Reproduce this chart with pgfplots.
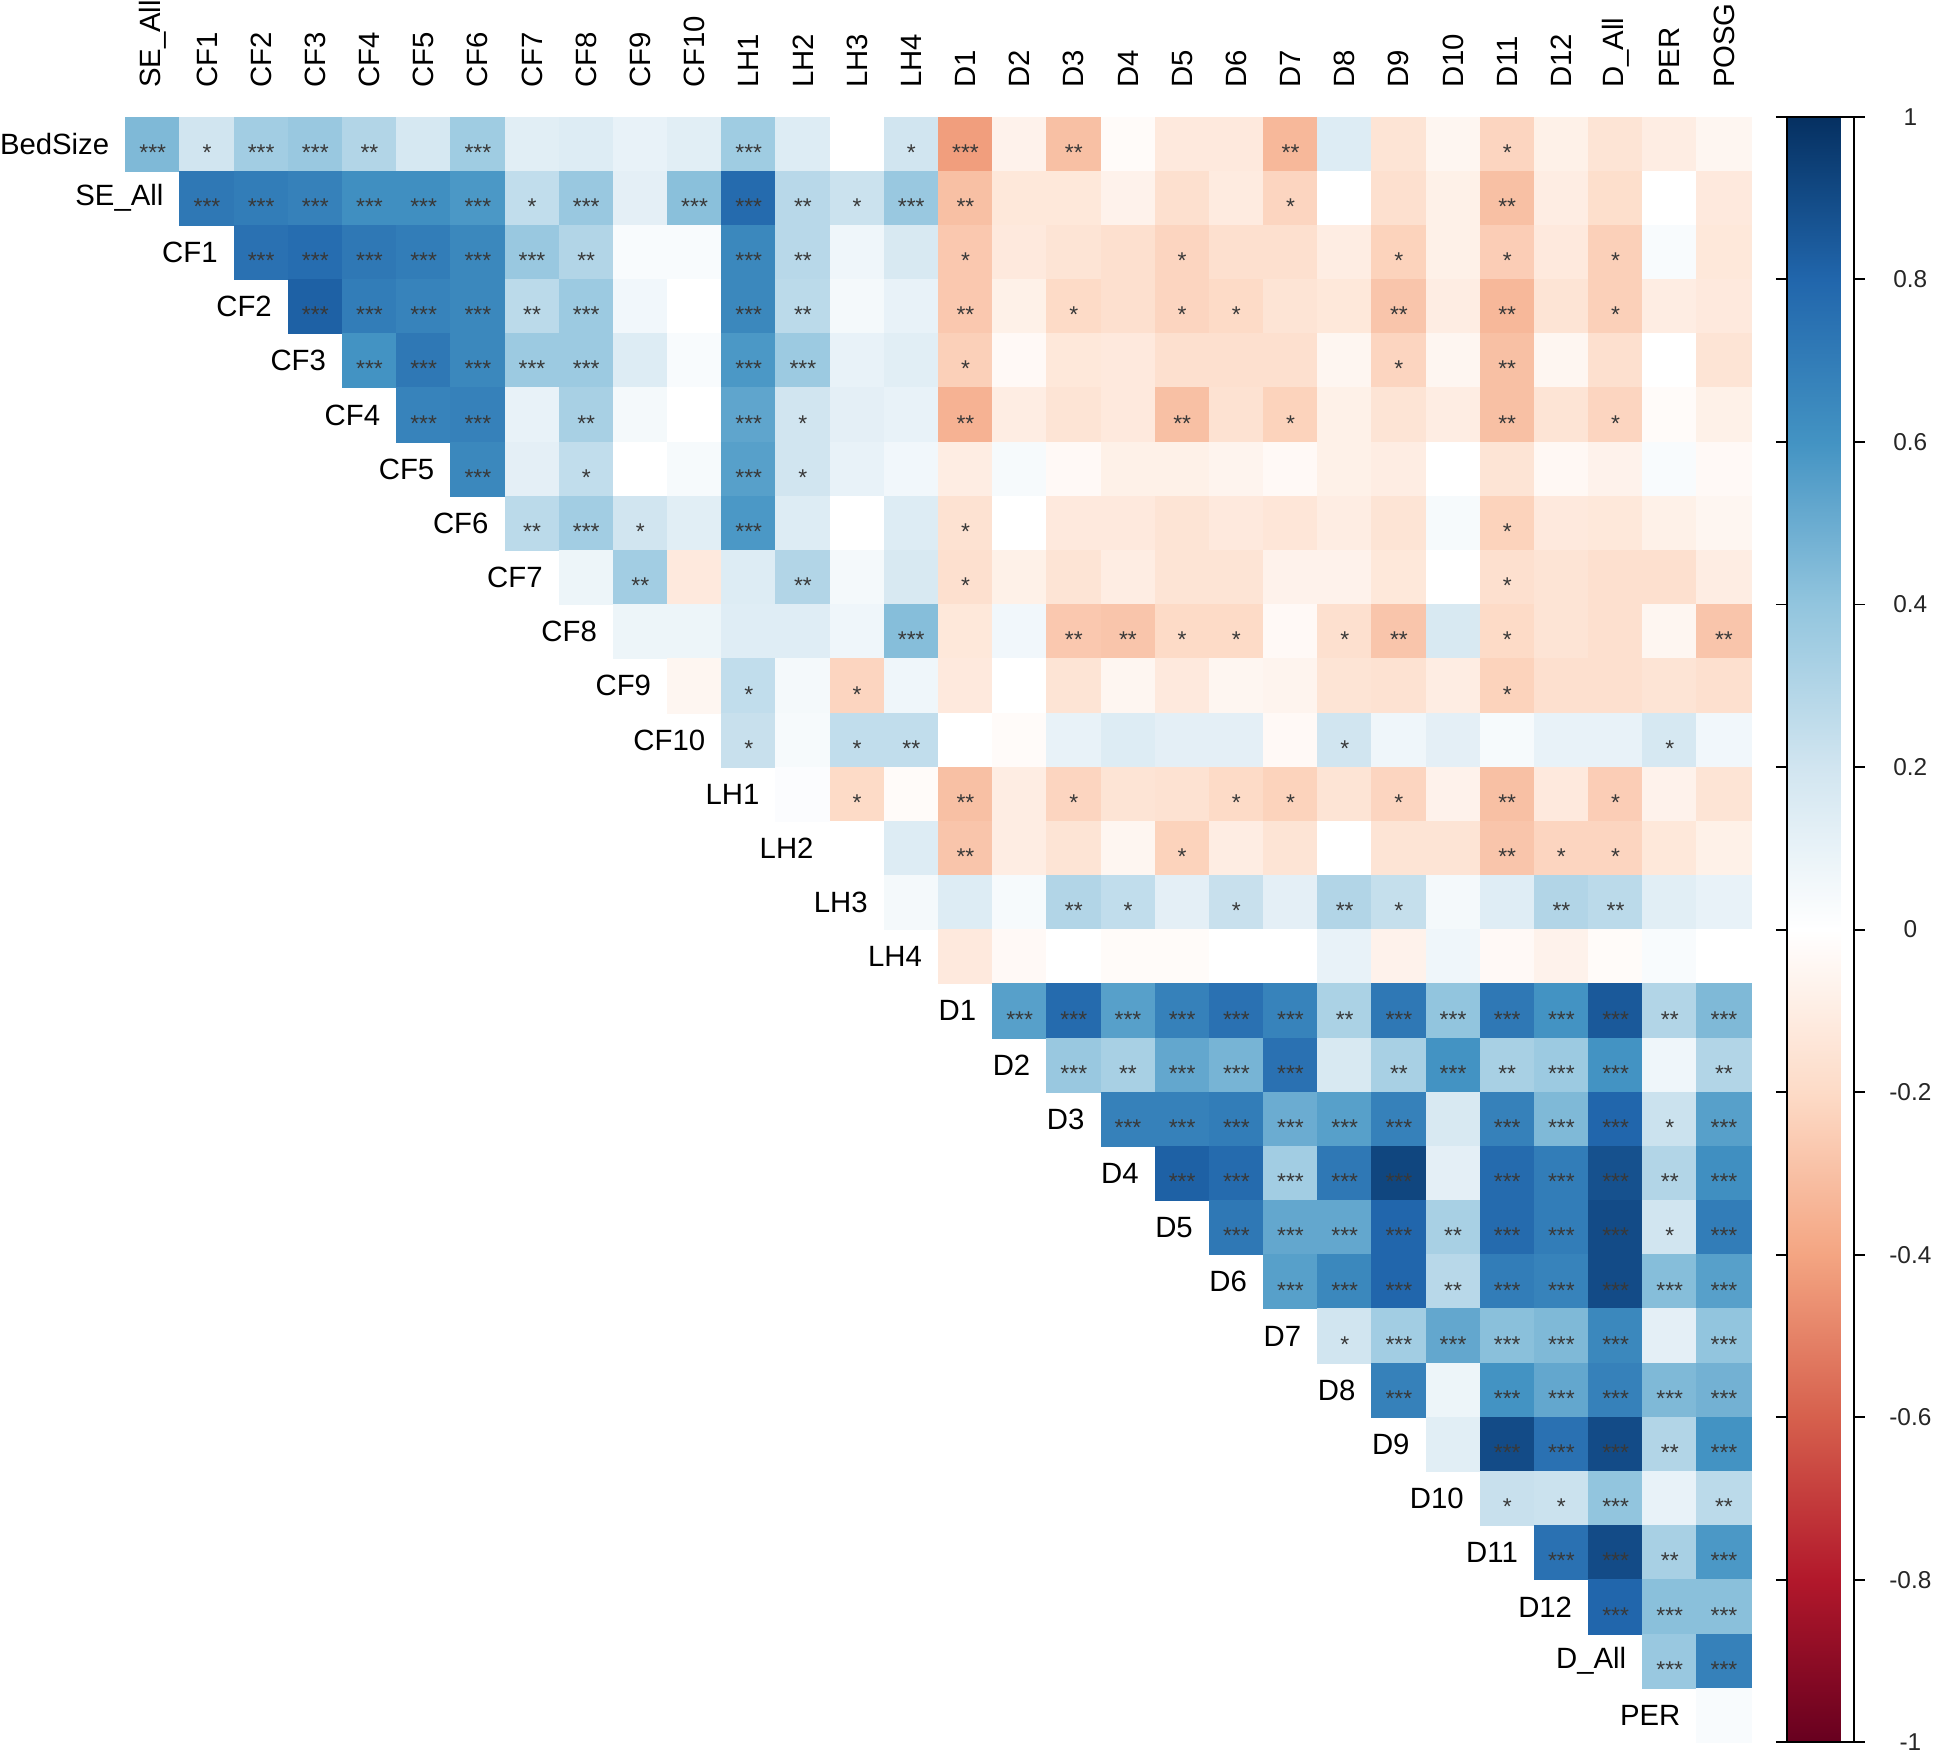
\documentclass[border=0pt]{standalone}
\usepackage{fontspec}
\setmainfont{Liberation Sans}
\usepackage{pgfplots}
\usepackage{pgfplotstable}
\pgfplotsset{compat=1.18}
\pgfplotsset{colormap={rdbu}{rgb255=(103,0,31) rgb255=(178,24,43) rgb255=(214,96,77) rgb255=(244,165,130) rgb255=(253,219,199) rgb255=(255,255,255) rgb255=(209,229,240) rgb255=(146,197,222) rgb255=(67,147,195) rgb255=(33,102,172) rgb255=(5,48,97)}}
\newcommand\stars[1]{\ifcase#1\relax\or*\or**\or***\fi}
\pgfplotstableread{
x y v s
0 0 0.45 3
1 0 0.20 1
2 0 0.35 3
3 0 0.38 3
4 0 0.30 2
5 0 0.18 0
6 0 0.36 3
7 0 0.13 0
8 0 0.15 0
9 0 0.10 0
10 0 0.13 0
11 0 0.36 3
12 0 0.15 0
13 0 0.00 0
14 0 0.20 1
15 0 -0.42 3
16 0 -0.07 0
17 0 -0.30 2
18 0 -0.02 0
19 0 -0.12 0
20 0 -0.12 0
21 0 -0.33 2
22 0 0.15 0
23 0 -0.15 0
24 0 -0.05 0
25 0 -0.22 1
26 0 -0.08 0
27 0 -0.15 0
28 0 -0.10 0
29 0 -0.05 0
1 1 0.72 3
2 1 0.70 3
3 1 0.68 3
4 1 0.62 3
5 1 0.62 3
6 1 0.58 3
7 1 0.25 1
8 1 0.38 3
9 1 0.12 0
10 1 0.42 3
11 1 0.78 3
12 1 0.28 2
13 1 0.22 1
14 1 0.38 3
15 1 -0.30 2
16 1 -0.13 0
17 1 -0.13 0
18 1 -0.07 0
19 1 -0.17 0
20 1 -0.11 0
21 1 -0.22 1
22 1 0.00 0
23 1 -0.17 0
24 1 -0.08 0
25 1 -0.30 2
26 1 -0.10 0
27 1 -0.18 0
28 1 0.00 0
29 1 -0.12 0
2 2 0.75 3
3 2 0.77 3
4 2 0.72 3
5 2 0.70 3
6 2 0.65 3
7 2 0.38 3
8 2 0.30 2
9 2 0.03 0
10 2 0.03 0
11 2 0.65 3
12 2 0.28 2
13 2 0.07 0
14 2 0.17 0
15 2 -0.27 1
16 2 -0.12 0
17 2 -0.15 0
18 2 -0.17 0
19 2 -0.22 1
20 2 -0.17 0
21 2 -0.17 0
22 2 -0.10 0
23 2 -0.23 1
24 2 -0.08 0
25 2 -0.25 1
26 2 -0.12 0
27 2 -0.24 1
28 2 0.03 0
29 2 -0.13 0
3 3 0.82 3
4 3 0.70 3
5 3 0.67 3
6 3 0.65 3
7 3 0.27 2
8 3 0.37 3
9 3 0.06 0
10 3 0.00 0
11 3 0.65 3
12 3 0.27 2
13 3 0.05 0
14 3 0.10 0
15 3 -0.27 2
16 3 -0.08 0
17 3 -0.20 1
18 3 -0.17 0
19 3 -0.22 1
20 3 -0.20 1
21 3 -0.15 0
22 3 -0.13 0
23 3 -0.28 2
24 3 -0.10 0
25 3 -0.33 2
26 3 -0.15 0
27 3 -0.24 1
28 3 -0.10 0
29 3 -0.12 0
4 4 0.60 3
5 4 0.72 3
6 4 0.65 3
7 4 0.37 3
8 4 0.37 3
9 4 0.15 0
10 4 0.03 0
11 4 0.58 3
12 4 0.37 3
13 4 0.10 0
14 4 0.13 0
15 4 -0.24 1
16 4 -0.03 0
17 4 -0.13 0
18 4 -0.12 0
19 4 -0.17 0
20 4 -0.17 0
21 4 -0.17 0
22 4 -0.05 0
23 4 -0.22 1
24 4 -0.05 0
25 4 -0.30 2
26 4 -0.05 0
27 4 -0.17 0
28 4 0.00 0
29 4 -0.15 0
5 5 0.67 3
6 5 0.68 3
7 5 0.10 0
8 5 0.33 2
9 5 0.05 0
10 5 0.00 0
11 5 0.53 3
12 5 0.20 1
13 5 0.12 0
14 5 0.10 0
15 5 -0.35 2
16 5 -0.10 0
17 5 -0.15 0
18 5 -0.12 0
19 5 -0.30 2
20 5 -0.16 0
21 5 -0.23 1
22 5 -0.08 0
23 5 -0.15 0
24 5 -0.10 0
25 5 -0.30 2
26 5 -0.15 0
27 5 -0.22 1
28 5 -0.02 0
29 5 -0.08 0
6 6 0.65 3
7 6 0.12 0
8 6 0.25 1
9 6 0.00 0
10 6 0.04 0
11 6 0.55 3
12 6 0.20 1
13 6 0.10 0
14 6 0.06 0
15 6 -0.10 0
16 6 0.04 0
17 6 -0.03 0
18 6 -0.08 0
19 6 -0.08 0
20 6 -0.06 0
21 6 -0.03 0
22 6 -0.08 0
23 6 -0.10 0
24 6 0.00 0
25 6 -0.15 0
26 6 -0.04 0
27 6 -0.07 0
28 6 0.03 0
29 6 -0.03 0
7 7 0.27 2
8 7 0.35 3
9 7 0.20 1
10 7 0.13 0
11 7 0.58 3
12 7 0.15 0
13 7 0.00 0
14 7 0.15 0
15 7 -0.16 1
16 7 0.00 0
17 7 -0.12 0
18 7 -0.12 0
19 7 -0.15 0
20 7 -0.12 0
21 7 -0.14 0
22 7 -0.10 0
23 7 -0.15 0
24 7 0.04 0
25 7 -0.23 1
26 7 -0.12 0
27 7 -0.13 0
28 7 -0.08 0
29 7 -0.05 0
8 8 0.08 0
9 8 0.35 2
10 8 -0.12 0
11 8 0.15 0
12 8 0.30 2
13 8 0.05 0
14 8 0.17 0
15 8 -0.17 1
16 8 -0.08 0
17 8 -0.15 0
18 8 -0.10 0
19 8 -0.15 0
20 8 -0.15 0
21 8 -0.07 0
22 8 -0.07 0
23 8 -0.13 0
24 8 0.00 0
25 8 -0.17 1
26 8 -0.15 0
27 8 -0.17 0
28 8 -0.17 0
29 8 -0.10 0
9 9 0.08 0
10 9 0.08 0
11 9 0.14 0
12 9 0.14 0
13 9 0.07 0
14 9 0.43 3
15 9 -0.13 0
16 9 0.06 0
17 9 -0.27 2
18 9 -0.28 2
19 9 -0.20 1
20 9 -0.20 1
21 9 -0.03 0
22 9 -0.17 1
23 9 -0.28 2
24 9 0.17 0
25 9 -0.20 1
26 9 -0.15 0
27 9 -0.17 0
28 9 -0.05 0
29 9 -0.28 2
10 10 -0.05 0
11 10 0.25 1
12 10 0.05 0
13 10 -0.22 1
14 10 0.07 0
15 10 -0.12 0
16 10 0.00 0
17 10 -0.15 0
18 10 -0.05 0
19 10 -0.12 0
20 10 -0.05 0
21 10 -0.06 0
22 10 -0.15 0
23 10 -0.16 0
24 10 -0.10 0
25 10 -0.23 1
26 10 -0.17 0
27 10 -0.17 0
28 10 -0.15 0
29 10 -0.17 0
11 11 0.23 1
12 11 0.04 0
13 11 0.25 1
14 11 0.25 2
15 11 0.00 0
16 11 -0.02 0
17 11 0.10 0
18 11 0.15 0
19 11 0.12 0
20 11 0.12 0
21 11 -0.03 0
22 11 0.20 1
23 11 0.07 0
24 11 0.12 0
25 11 0.04 0
26 11 0.10 0
27 11 0.10 0
28 11 0.18 1
29 11 0.06 0
12 12 0.02 0
13 12 -0.20 1
14 12 -0.02 0
15 12 -0.30 2
16 12 -0.10 0
17 12 -0.22 1
18 12 -0.15 0
19 12 -0.16 0
20 12 -0.20 1
21 12 -0.23 1
22 12 -0.15 0
23 12 -0.22 1
24 12 -0.07 0
25 12 -0.30 2
26 12 -0.12 0
27 12 -0.25 1
28 12 -0.07 0
29 12 -0.15 0
13 13 0.00 0
14 13 0.15 0
15 13 -0.28 2
16 13 -0.10 0
17 13 -0.15 0
18 13 -0.05 0
19 13 -0.23 1
20 13 -0.10 0
21 13 -0.15 0
22 13 0.00 0
23 13 -0.15 0
24 13 -0.15 0
25 13 -0.28 2
26 13 -0.22 1
27 13 -0.22 1
28 13 -0.13 0
29 13 -0.08 0
14 14 0.05 0
15 14 0.15 0
16 14 0.04 0
17 14 0.30 2
18 14 0.25 1
19 14 0.12 0
20 14 0.23 1
21 14 0.12 0
22 14 0.30 2
23 14 0.24 1
24 14 0.05 0
25 14 0.14 0
26 14 0.30 2
27 14 0.27 2
28 14 0.13 0
29 14 0.10 0
15 15 -0.12 0
16 15 -0.03 0
17 15 0.00 0
18 15 -0.02 0
19 15 -0.02 0
20 15 0.00 0
21 15 0.00 0
22 15 0.10 0
23 15 -0.07 0
24 15 0.07 0
25 15 -0.03 0
26 15 -0.07 0
27 15 -0.02 0
28 15 0.03 0
29 15 0.00 0
16 16 0.55 3
17 16 0.78 3
18 16 0.55 3
19 16 0.68 3
20 16 0.75 3
21 16 0.67 3
22 16 0.32 2
23 16 0.72 3
24 16 0.40 3
25 16 0.72 3
26 16 0.60 3
27 16 0.85 3
28 16 0.30 2
29 16 0.45 3
17 17 0.38 3
18 17 0.33 2
19 17 0.52 3
20 17 0.47 3
21 17 0.75 3
22 17 0.17 0
23 17 0.33 2
24 17 0.60 3
25 17 0.33 2
26 17 0.37 3
27 17 0.60 3
28 17 0.07 0
29 17 0.30 2
18 18 0.68 3
19 18 0.68 3
20 18 0.70 3
21 18 0.50 3
22 18 0.55 3
23 18 0.68 3
24 18 0.17 0
25 18 0.68 3
26 18 0.45 3
27 18 0.80 3
28 18 0.22 1
29 18 0.55 3
19 19 0.82 3
20 19 0.78 3
21 19 0.35 3
22 19 0.72 3
23 19 0.92 3
24 19 0.12 0
25 19 0.78 3
26 19 0.70 3
27 19 0.88 3
28 19 0.30 2
29 19 0.62 3
20 20 0.72 3
21 20 0.52 3
22 20 0.52 3
23 20 0.80 3
24 20 0.33 2
25 20 0.78 3
26 20 0.70 3
27 20 0.90 3
28 20 0.20 1
29 20 0.70 3
21 21 0.55 3
22 21 0.65 3
23 21 0.80 3
24 21 0.28 2
25 21 0.70 3
26 21 0.67 3
27 21 0.90 3
28 21 0.43 3
29 21 0.55 3
22 22 0.20 1
23 22 0.35 3
24 22 0.52 3
25 22 0.42 3
26 22 0.45 3
27 22 0.65 3
28 22 0.12 0
29 22 0.40 3
23 23 0.68 3
24 23 0.08 0
25 23 0.60 3
26 23 0.52 3
27 23 0.68 3
28 23 0.45 3
29 23 0.48 3
24 24 0.13 0
25 24 0.90 3
26 24 0.75 3
27 24 0.90 3
28 24 0.30 2
29 24 0.60 3
25 25 0.23 1
26 25 0.22 1
27 25 0.40 3
28 25 0.10 0
29 25 0.27 2
26 26 0.75 3
27 26 0.90 3
28 26 0.33 2
29 26 0.58 3
27 27 0.80 3
28 27 0.42 3
29 27 0.42 3
28 28 0.38 3
29 28 0.68 3
29 29 0.03 0
}\cells
\pgfplotstableread{
x y lab
-0.5 0 BedSize
0.5 1 SE\_All
1.5 2 CF1
2.5 3 CF2
3.5 4 CF3
4.5 5 CF4
5.5 6 CF5
6.5 7 CF6
7.5 8 CF7
8.5 9 CF8
9.5 10 CF9
10.5 11 CF10
11.5 12 LH1
12.5 13 LH2
13.5 14 LH3
14.5 15 LH4
15.5 16 D1
16.5 17 D2
17.5 18 D3
18.5 19 D4
19.5 20 D5
20.5 21 D6
21.5 22 D7
22.5 23 D8
23.5 24 D9
24.5 25 D10
25.5 26 D11
26.5 27 D12
27.5 28 D\_All
28.5 29 PER
}\rowlabs
\begin{document}
\begin{tikzpicture}
\begin{axis}[
  x=0.5cm, y=0.5cm, y dir=reverse,
  xmin=-0.5, xmax=29.5, ymin=-0.5, ymax=29.5,
  clip=false,
  axis line style={draw=none},
  ytick=\empty,
  xtick={0,...,29},
  xticklabels={SE\_All,CF1,CF2,CF3,CF4,CF5,CF6,CF7,CF8,CF9,CF10,LH1,LH2,LH3,LH4,D1,D2,D3,D4,D5,D6,D7,D8,D9,D10,D11,D12,D\_All,PER,POSG},
  xtick pos=right, xticklabel pos=right,
  xtick style={draw=none},
  xticklabel style={font=\fontsize{7.7}{9}\selectfont, rotate=90, anchor=west, inner sep=0pt},
  xticklabel shift=0.26cm,
  colormap name=rdbu,
  point meta min=-1, point meta max=1,
  colorbar,
  colorbar shift/.style={xshift=0cm},
  colorbar style={
    width=0.62cm, height=15cm,
    at={(parent axis.north east)}, anchor=north west, xshift=0.33cm,
    ytick={-1,-0.8,-0.6,-0.4,-0.2,0,0.2,0.4,0.6,0.8,1},
    yticklabels={-1,-0.8,-0.6,-0.4,-0.2,0,0.2,0.4,0.6,0.8,1},
    yticklabel style={font=\fontsize{6.4}{7}\selectfont, anchor=center, xshift=0.42cm, text=black!85},
    tick align=outside, major tick length=0.1cm,
    ytick style={black, line width=0.5pt},
    axis line style={black, line width=0.6pt},
  },
]
\addplot[scatter, only marks, mark=square*, mark size=0.25cm, scatter src=explicit,
  mark options={line width=0.2pt},
  scatter/use mapped color={draw=mapped color, fill=mapped color}]
  table[x=x, y=y, meta=v] {\cells};
\addplot[only marks, mark=none, point meta=explicit symbolic,
  nodes near coords={\stars{\pgfplotspointmeta}},
  nodes near coords style={anchor=center, yshift=-2.2pt, inner sep=0pt, font=\fontsize{6}{7}\selectfont, text=black!78}]
  table[x=x, y=y, meta=s] {\cells};
\addplot[only marks, mark=none, point meta=explicit symbolic,
  nodes near coords={\pgfplotspointmeta},
  nodes near coords style={anchor=east, xshift=-0.145cm, inner sep=0pt, font=\fontsize{7.7}{9}\selectfont}]
  table[x=x, y=y, meta=lab] {\rowlabs};
\end{axis}
\end{tikzpicture}
\end{document}
